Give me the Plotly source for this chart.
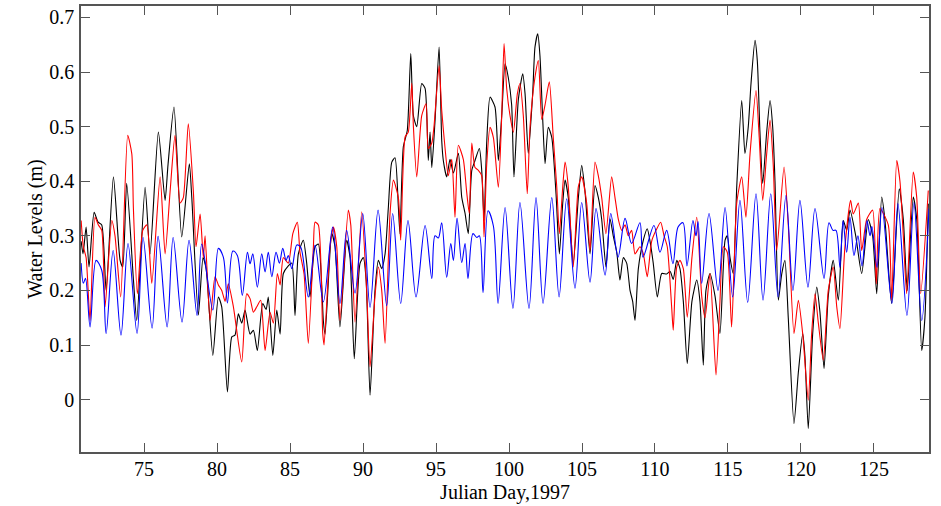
import plotly.graph_objects as go

# =========================
# DATA
# =========================
# observed water level (black)
obs_day = [70.69, 70.82, 71.03, 71.23, 71.58, 71.85, 72.10, 72.40, 72.90, 73.36, 73.54, 73.81, 74.27, 74.50,
           75.07, 75.41, 75.98, 76.44, 76.64, 77.05, 77.58, 78.10, 78.27, 78.72, 79.04, 79.25, 79.71, 80.09,
           80.32, 80.71, 81.01, 81.23, 81.46, 81.69, 81.92, 82.26, 82.49, 82.76, 83.13, 83.36, 83.51, 83.82,
           84.09, 84.32, 84.54, 84.88, 85.12, 85.34, 85.57, 85.91, 86.14, 86.37, 86.71, 86.94, 87.17, 87.28,
           87.40, 87.86, 88.08, 88.42, 88.88, 89.11, 89.40, 89.79, 90.02, 90.21, 90.48, 90.82, 91.05, 91.28,
           91.51, 91.73, 91.97, 92.19, 92.42, 92.53, 92.76, 93.03, 93.27, 93.45, 93.68, 94.02, 94.25, 94.47,
           94.59, 94.71, 94.93, 95.21, 95.39, 95.50, 95.73, 95.96, 96.19, 96.53, 96.76, 96.99, 97.21, 97.45,
           97.67, 97.97, 98.13, 98.29, 98.47, 98.70, 99.04, 99.27, 99.50, 99.73, 99.95, 100.18, 100.34,
           100.64, 100.94, 101.10, 101.32, 101.62, 101.78, 101.97, 102.12, 102.31, 102.47, 102.69, 102.93,
           103.22, 103.45, 103.68, 103.84, 104.06, 104.40, 104.75, 104.98, 105.21, 105.55, 105.89, 106.12,
           106.35, 106.64, 106.92, 107.14, 107.38, 107.60, 107.83, 108.06, 108.29, 108.47, 108.63, 108.86,
           109.20, 109.47, 109.66, 109.88, 110.16, 110.46, 110.80, 111.03, 111.25, 111.49, 111.71, 111.94,
           112.21, 112.53, 112.86, 113.08, 113.31, 113.49, 113.77, 114.11, 114.45, 114.80, 114.95, 115.14,
           115.36, 115.60, 115.94, 116.16, 116.39, 116.58, 116.85, 117.01, 117.19, 117.38, 117.65, 117.88,
           118.06, 118.22, 118.45, 118.68, 118.90, 119.13, 119.52, 119.82, 120.12, 120.27, 120.50, 120.80,
           121.08, 121.30, 121.58, 121.87, 122.21, 122.56, 122.90, 123.13, 123.36, 123.75, 124.16, 124.61,
           124.91, 125.19, 125.53, 125.75, 126.21, 126.73, 127.01, 127.28, 127.69, 127.93, 128.27, 128.49,
           128.72]
obs_level = [0.290, 0.267, 0.316, 0.243, 0.343, 0.325, 0.320, 0.200, 0.408, 0.255, 0.243, 0.396, 0.220, 0.145,
             0.389, 0.267, 0.490, 0.365, 0.430, 0.536, 0.298, 0.432, 0.370, 0.155, 0.260, 0.240, 0.081, 0.188,
             0.170, 0.014, 0.115, 0.118, 0.157, 0.140, 0.164, 0.120, 0.127, 0.090, 0.176, 0.165, 0.188, 0.081,
             0.164, 0.120, 0.231, 0.245, 0.250, 0.154, 0.267, 0.292, 0.250, 0.188, 0.280, 0.285, 0.210, 0.145,
             0.120, 0.304, 0.280, 0.133, 0.292, 0.260, 0.075, 0.249, 0.260, 0.220, 0.008, 0.200, 0.255, 0.240,
             0.267, 0.350, 0.435, 0.443, 0.353, 0.304, 0.463, 0.493, 0.634, 0.520, 0.500, 0.579, 0.570, 0.438,
             0.490, 0.425, 0.510, 0.646, 0.475, 0.438, 0.408, 0.440, 0.415, 0.451, 0.371, 0.341, 0.304, 0.420,
             0.438, 0.460, 0.420, 0.328, 0.470, 0.554, 0.536, 0.438, 0.520, 0.615, 0.590, 0.540, 0.408,
             0.550, 0.597, 0.560, 0.451, 0.560, 0.646, 0.670, 0.630, 0.512, 0.432, 0.499, 0.480,
             0.377, 0.267, 0.360, 0.402, 0.370, 0.249, 0.370, 0.429, 0.380, 0.267, 0.392, 0.370,
             0.330, 0.243, 0.331, 0.300, 0.270, 0.219, 0.260, 0.250, 0.200, 0.180, 0.145, 0.240,
             0.292, 0.313, 0.290, 0.250, 0.188, 0.231, 0.230, 0.235, 0.220, 0.255, 0.240, 0.180,
             0.066, 0.180, 0.219, 0.180, 0.063, 0.200, 0.231, 0.190, 0.121, 0.292, 0.300, 0.260,
             0.231, 0.390, 0.548, 0.451, 0.500, 0.580, 0.658, 0.620, 0.490, 0.396, 0.490, 0.548,
             0.500, 0.400, 0.182, 0.230, 0.255, 0.150, -0.044, 0.050, 0.121, 0.080, -0.053, 0.120,
             0.206, 0.160, 0.057, 0.190, 0.255, 0.182, 0.328, 0.310, 0.347, 0.300, 0.231, 0.330,
             0.300, 0.194, 0.371, 0.330, 0.176, 0.386, 0.330, 0.200, 0.371, 0.330, 0.090, 0.150,
             0.359]

# modelled water level (red)
mod_day = [70.69, 70.84, 71.03, 71.30, 71.64, 71.87, 72.10, 72.33, 72.79, 73.01, 73.40, 73.88, 74.16, 74.27,
           74.54, 74.91, 75.19, 75.53, 76.10, 76.44, 76.78, 77.12, 77.47, 77.69, 78.03, 78.38, 78.56, 78.84,
           79.06, 79.18, 79.52, 79.86, 80.09, 80.32, 80.55, 80.77, 81.12, 81.69, 82.03, 82.26, 82.49, 82.72,
           82.99, 83.29, 83.63, 83.86, 84.13, 84.32, 84.54, 84.88, 85.19, 85.50, 85.68, 85.96, 86.25, 86.60,
           86.71, 86.94, 87.24, 87.33, 87.74, 87.97, 88.20, 88.42, 88.99, 89.16, 89.45, 89.91, 90.25, 90.48,
           90.82, 91.05, 91.28, 91.51, 91.85, 92.08, 92.42, 92.58, 92.88, 93.10, 93.34, 93.45, 93.68, 94.02,
           94.32, 94.47, 94.71, 94.86, 95.21, 95.39, 95.62, 95.84, 96.08, 96.30, 96.53, 96.87, 97.10, 97.28,
           97.45, 97.67, 97.90, 98.13, 98.29, 98.47, 98.70, 98.93, 99.27, 99.50, 99.66, 99.84, 100.07,
           100.30, 100.57, 100.75, 100.98, 101.25, 101.44, 101.78, 102.01, 102.24, 102.47, 102.76, 103.03,
           103.27, 103.45, 103.68, 103.84, 104.06, 104.40, 104.75, 104.98, 105.32, 105.55, 105.89, 106.12,
           106.35, 106.64, 107.03, 107.26, 107.49, 107.72, 107.95, 108.17, 108.40, 108.63, 108.97, 109.20,
           109.47, 109.77, 110.07, 110.39, 110.62, 110.84, 111.14, 111.25, 111.49, 111.71, 111.94, 112.21,
           112.53, 112.86, 113.20, 113.43, 113.77, 114.18, 114.45, 114.68, 114.95, 115.25, 115.60, 115.94,
           116.23, 116.51, 116.92, 117.14, 117.38, 117.65, 117.88, 118.10, 118.34, 118.84, 119.13, 119.52,
           119.82, 120.12, 120.50, 120.73, 120.96, 121.19, 121.53, 121.87, 122.21, 122.45, 122.67, 123.01,
           123.40, 123.58, 123.93, 124.16, 124.50, 124.91, 125.16, 125.41, 125.98, 126.21, 126.56, 126.78,
           127.01, 127.24, 127.69, 127.93, 128.20, 128.72]
mod_level = [0.328, 0.280, 0.260, 0.145, 0.334, 0.320, 0.310, 0.170, 0.328, 0.300, 0.188, 0.484, 0.450, 0.350,
             0.194, 0.310, 0.320, 0.213, 0.408, 0.267, 0.380, 0.484, 0.360, 0.370, 0.505, 0.380, 0.280, 0.340,
             0.260, 0.300, 0.145, 0.225, 0.210, 0.200, 0.180, 0.212, 0.170, 0.069, 0.194, 0.185, 0.160, 0.170,
             0.182, 0.090, 0.160, 0.140, 0.231, 0.210, 0.260, 0.250, 0.304, 0.325, 0.270, 0.230, 0.103, 0.280,
             0.325, 0.320, 0.121, 0.100, 0.280, 0.316, 0.280, 0.145, 0.347, 0.320, 0.142, 0.344, 0.200, 0.060,
             0.190, 0.243, 0.200, 0.103, 0.341, 0.402, 0.370, 0.292, 0.481, 0.490, 0.580, 0.500, 0.408, 0.520,
             0.542, 0.460, 0.470, 0.500, 0.612, 0.530, 0.460, 0.410, 0.440, 0.334, 0.466, 0.440, 0.380, 0.341,
             0.470, 0.425, 0.420, 0.410, 0.298, 0.430, 0.499, 0.480, 0.389, 0.520, 0.652, 0.570, 0.520,
             0.490, 0.560, 0.579, 0.520, 0.377, 0.500, 0.591, 0.621, 0.513, 0.540, 0.582, 0.480,
             0.390, 0.304, 0.390, 0.435, 0.390, 0.243, 0.390, 0.408, 0.360, 0.273, 0.435, 0.410,
             0.370, 0.304, 0.408, 0.370, 0.330, 0.310, 0.320, 0.300, 0.310, 0.267, 0.280, 0.267,
             0.225, 0.290, 0.310, 0.325, 0.300, 0.280, 0.170, 0.127, 0.243, 0.255, 0.240, 0.151,
             0.260, 0.334, 0.190, 0.150, 0.231, 0.045, 0.180, 0.280, 0.270, 0.133, 0.360, 0.408,
             0.334, 0.450, 0.566, 0.480, 0.365, 0.450, 0.512, 0.430, 0.273, 0.426, 0.320, 0.121,
             0.182, 0.120, -0.001, 0.120, 0.194, 0.140, 0.072, 0.200, 0.243, 0.170, 0.130, 0.280,
             0.365, 0.340, 0.360, 0.273, 0.330, 0.347, 0.212, 0.350, 0.320, 0.182, 0.438, 0.400,
             0.300, 0.194, 0.417, 0.370, 0.194, 0.383]

# astronomical tide (blue)
tide_day = [70.69, 70.84, 70.99, 71.30, 71.71, 72.10, 72.40, 72.88, 73.42, 73.90, 74.52, 74.93, 75.55, 75.96,
            76.58, 76.99, 77.60, 78.08, 78.63, 78.95, 79.71, 80.09, 80.43, 80.71, 81.08, 81.39, 81.73, 82.08,
            82.26, 82.45, 82.76, 83.06, 83.29, 83.51, 83.75, 84.04, 84.27, 84.50, 84.73, 84.88, 85.12, 85.46,
            85.73, 86.25, 86.71, 87.28, 87.92, 88.42, 88.88, 89.45, 89.98, 90.48, 91.03, 91.62, 92.03, 92.58,
            93.08, 93.63, 94.25, 94.71, 94.93, 95.16, 95.39, 95.73, 96.01, 96.19, 96.44, 96.76, 96.99, 97.19,
            97.53, 97.79, 97.97, 98.22, 98.56, 98.93, 99.25, 99.73, 100.27, 100.75, 101.37, 101.85, 102.33,
            102.93, 103.43, 103.95, 104.52, 104.98, 105.55, 105.96, 106.58, 106.97, 107.47, 107.95, 108.40,
            108.97, 109.18, 109.93, 110.34, 110.80, 111.23, 111.58, 111.92, 112.19, 112.60, 112.81, 112.95,
            113.20, 113.70, 114.32, 114.80, 115.32, 115.82, 116.35, 116.92, 117.40, 117.93, 118.43, 118.97,
            119.45, 119.93, 120.48, 120.96, 121.58, 121.92, 122.19, 122.40, 122.67, 122.88, 123.13, 123.36,
            123.63, 123.90, 124.18, 124.52, 124.73, 124.86, 125.21, 125.55, 126.23, 126.64, 127.26, 127.74,
            128.27, 128.77]
tide_level = [0.250, 0.213, 0.222, 0.133, 0.255, 0.237, 0.121, 0.273, 0.118, 0.286, 0.121, 0.297, 0.131, 0.299,
              0.133, 0.297, 0.142, 0.292, 0.154, 0.285, 0.164, 0.277, 0.261, 0.177, 0.272, 0.264, 0.191, 0.270,
              0.249, 0.267, 0.206, 0.267, 0.234, 0.270, 0.225, 0.270, 0.250, 0.277, 0.255, 0.264, 0.240, 0.283,
              0.279, 0.188, 0.283, 0.179, 0.316, 0.176, 0.310, 0.195, 0.341, 0.169, 0.347, 0.172, 0.341, 0.176,
              0.328, 0.188, 0.319, 0.222, 0.300, 0.296, 0.324, 0.224, 0.286, 0.255, 0.332, 0.251, 0.286, 0.222,
              0.304, 0.297, 0.300, 0.196, 0.346, 0.318, 0.176, 0.352, 0.167, 0.361, 0.167, 0.370, 0.176,
              0.370, 0.188, 0.368, 0.204, 0.361, 0.215, 0.350, 0.228, 0.341, 0.261, 0.332, 0.286,
              0.324, 0.261, 0.319, 0.270, 0.310, 0.249, 0.316, 0.324, 0.245, 0.328, 0.300, 0.326,
              0.213, 0.341, 0.200, 0.352, 0.188, 0.365, 0.178, 0.377, 0.182, 0.377, 0.188, 0.374,
              0.200, 0.365, 0.206, 0.350, 0.222, 0.324, 0.310, 0.310, 0.242, 0.328, 0.270, 0.334,
              0.264, 0.300, 0.245, 0.328, 0.300, 0.317, 0.242, 0.352, 0.176, 0.359, 0.154, 0.361,
              0.145, 0.350]

x_ticks = [75, 80, 85, 90, 95, 100, 105, 110, 115, 120, 125]
y_ticks = [0, 0.1, 0.2, 0.3, 0.4, 0.5, 0.6, 0.7]

# =========================
# FIGURE
# =========================
fig = go.Figure()
fig.add_trace(go.Scatter(x=obs_day, y=obs_level, mode='lines',
                         line=dict(color='black', width=1.1, shape='spline', smoothing=0.6),
                         name='Observed'))
fig.add_trace(go.Scatter(x=mod_day, y=mod_level, mode='lines',
                         line=dict(color='red', width=1.1, shape='spline', smoothing=0.6),
                         name='Model'))
fig.add_trace(go.Scatter(x=tide_day, y=tide_level, mode='lines',
                         line=dict(color='blue', width=1.1, shape='spline', smoothing=0.9),
                         name='Tide'))

axis_font = dict(family='Liberation Serif, Times New Roman, serif', size=20, color='black')
frame = dict(showline=True, linecolor='#555555', linewidth=1.5, mirror='ticks',
             ticks='inside', ticklen=9, tickwidth=1.3, tickcolor='#555555',
             showgrid=False, zeroline=False, tickfont=axis_font, automargin=False)

fig.update_layout(
    width=941, height=506,
    margin=dict(l=81, r=12, t=6, b=54),
    paper_bgcolor='white', plot_bgcolor='white',
    showlegend=False,
    xaxis=dict(range=[70.68, 128.77], tickvals=x_ticks, ticklabelstandoff=-2,
               title=dict(text='Julian Day,1997', font=axis_font, standoff=6), **frame),
    yaxis=dict(range=[-0.096, 0.721], tickvals=y_ticks, ticklabelstandoff=1,
               title=dict(text='Water Levels (m)', font=axis_font, standoff=1), **frame),
)

# page body has a default 8px margin; drop it so the figure sits at the window corner
fig.write_html("out.html", config={'displayModeBar': False},
               post_script="document.body.style.margin='0';")
